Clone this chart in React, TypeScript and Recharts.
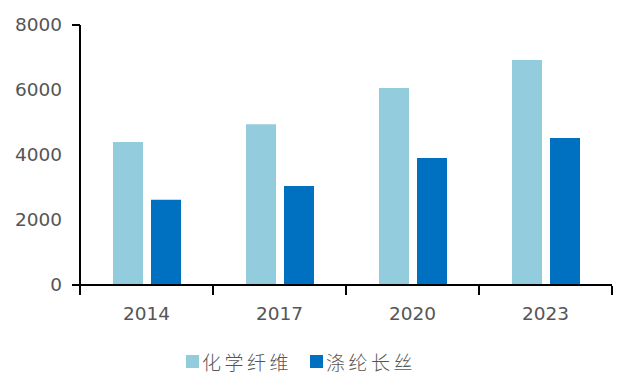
import React from "react";
import { BarChart, Bar, XAxis, YAxis, Legend } from "recharts";

const years = ["2014", "2017", "2020", "2023"];
const chemicalFiber = [4400, 4950, 6060, 6920];
const polyesterFilament = [2620, 3050, 3910, 4520];
const yTicks = [0, 2000, 4000, 6000, 8000];
const seriesNames = ["化学纤维", "涤纶长丝"];
const colors = ["#93CDDD", "#0070C0"];

const data = years.map((y, i) => ({
  year: y,
  a: chemicalFiber[i],
  b: polyesterFilament[i],
}));

const TEXT = "#555555";
const FONT = "'DejaVu Sans', sans-serif";

const XTick = (props: any) => {
  const { x, y, payload, index, width } = props;
  const half = width / years.length / 2;
  return (
    <g>
      <line x1={x - half} y1={y - 1} x2={x - half} y2={y + 8} stroke="#000" strokeWidth={2} />
      {index === years.length - 1 && (
        <line x1={x + half} y1={y - 1} x2={x + half} y2={y + 8} stroke="#000" strokeWidth={2} />
      )}
      <text x={x} y={y + 33} textAnchor="middle" fill={TEXT} fontSize={18.5} fontFamily={FONT}>
        {payload.value}
      </text>
    </g>
  );
};

const YTick = (props: any) => {
  const { x, y, payload } = props;
  const edge = payload.value === 0 || payload.value === 8000;
  return (
    <g>
      {edge && <line x1={x + 10} y1={y} x2={x + 18} y2={y} stroke="#000" strokeWidth={2} />}
      <text x={x} y={y + 6} textAnchor="end" fill={TEXT} fontSize={18.5} fontFamily={FONT}>
        {payload.value}
      </text>
    </g>
  );
};

const LegendContent = () => (
  <div
    style={{
      display: "flex",
      justifyContent: "center",
      alignItems: "center",
      fontFamily: "'Noto Sans CJK SC', sans-serif",
      fontSize: 19,
      color: TEXT,
      paddingRight: 10,
    }}
  >
    {seriesNames.map((n, i) => (
      <div key={n} style={{ display: "flex", alignItems: "center", marginRight: i === 0 ? 18 : 0 }}>
        <span style={{ width: 13, height: 13, background: colors[i], display: "inline-block", marginRight: 3 }} />
        <span style={{ letterSpacing: 3.5, fontWeight: 300 }}>{n}</span>
      </div>
    ))}
  </div>
);

export default function App() {
  return (
    <div style={{ position: "absolute", left: 0, top: 0, background: "#fff" }}>
      <BarChart
        width={630}
        height={383}
        data={data}
        margin={{ top: 25, right: 18, bottom: 28, left: 0 }}
        barGap={8}
        barSize={30}
      >
        <XAxis
          dataKey="year"
          axisLine={{ stroke: "#000", strokeWidth: 2 }}
          tickLine={false}
          tickSize={0}
          tick={<XTick />}
          height={40}
          interval={0}
        />
        <YAxis
          domain={[0, 8000]}
          ticks={yTicks}
          axisLine={{ stroke: "#000", strokeWidth: 2 }}
          tickLine={false}
          tickSize={0}
          tick={<YTick />}
          width={80}
          tickMargin={18}
          interval={0}
        />
        <Legend
          verticalAlign="bottom"
          height={30}
          content={<LegendContent />}
          wrapperStyle={{ bottom: 5 }}
        />
        <Bar dataKey="a" name={seriesNames[0]} fill={colors[0]} isAnimationActive={false} />
        <Bar dataKey="b" name={seriesNames[1]} fill={colors[1]} isAnimationActive={false} />
      </BarChart>
    </div>
  );
}
